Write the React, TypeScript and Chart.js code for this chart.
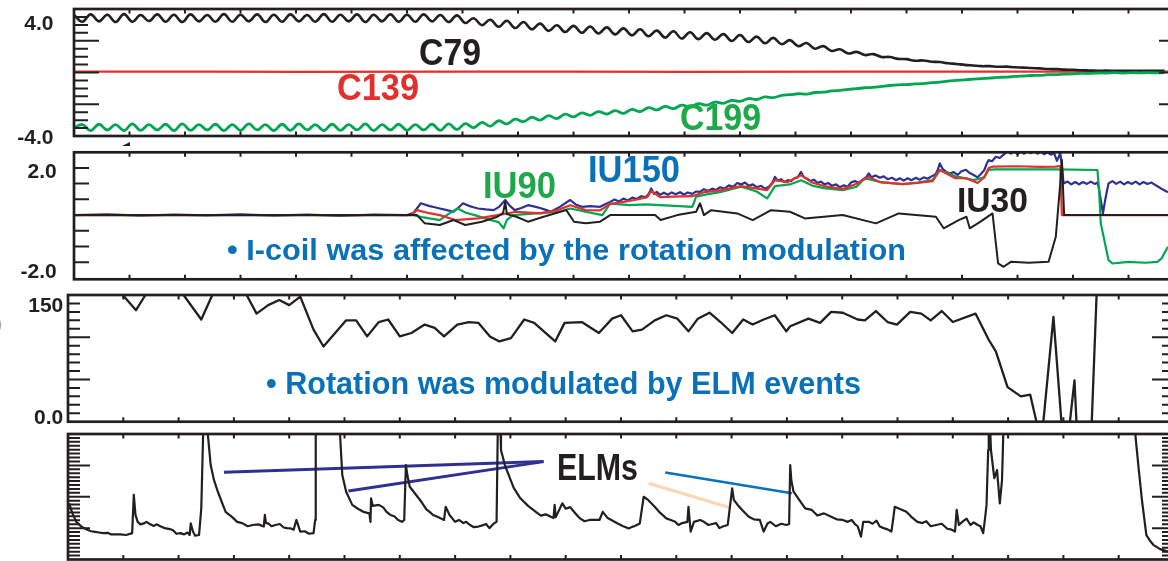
import React, { useEffect, useLayoutEffect, useRef } from "react";
import { Chart, registerables } from "chart.js";

Chart.register(...registerables);

type Pt = [number, number];

// ---------- palette ----------
const INK = "#231f20";
const RED = "#e2312c";
const GREEN = "#00a651";
const GREEN_TEXT = "#1fa84a";
const BLUE_TEXT = "#0a71b9";
const NAVY = "#2e3192";
const SKY = "#0a72bc";
const PEACH = "#fcd6b3";
const FONT = '"Liberation Sans", Arial, Helvetica, sans-serif';

// ---------- coil currents (kA), sampled every 15 ms ----------
const COIL_STEP_MS = 15;

const C79: number[] = [
  3.62, 3.2, 3.66, 3.22, 3.64, 3.18, 3.68, 3.2, 3.62, 3.24,
  3.66, 3.2, 3.64, 3.18, 3.66, 3.22, 3.62, 3.2, 3.68, 3.2,
  3.64, 3.22, 3.66, 3.18, 3.64, 3.2, 3.66, 3.22, 3.62, 3.2,
  3.68, 3.2, 3.64, 3.22, 3.66, 3.18, 3.64, 3.22, 3.66, 3.2,
  3.64, 3.2, 3.66, 3.22, 3.62, 3.18, 3.6, 3.12, 3.42, 2.98,
  3.32, 2.88, 3.26, 2.8, 3.18, 2.72, 3.08, 2.62, 2.98, 2.55,
  2.94, 2.5, 2.9, 2.46, 2.84, 2.4, 2.78, 2.34, 2.72, 2.28,
  2.64, 2.2, 2.6, 2.14, 2.54, 2.1, 2.48, 2.06, 2.42, 1.98,
  2.36, 1.92, 2.26, 1.84, 2.18, 1.78, 2.04, 1.66, 1.86, 1.5,
  1.66, 1.36, 1.46, 1.2, 1.3, 1.1, 1.16, 0.98, 0.98, 0.86,
  0.84, 0.74, 0.76, 0.68, 0.66, 0.58, 0.54, 0.48, 0.44, 0.4,
  0.4, 0.36, 0.37, 0.33, 0.31, 0.28, 0.26, 0.22, 0.21, 0.18,
  0.17, 0.14, 0.13, 0.11, 0.12, 0.1, 0.11, 0.1, 0.11, 0.1,
  0.11, 0.1,
];

const C199: number[] = [
  -3.48, -3.28, -3.66, -3.26, -3.62, -3.28, -3.66, -3.24, -3.64, -3.28,
  -3.62, -3.26, -3.66, -3.24, -3.64, -3.28, -3.62, -3.26, -3.66, -3.28,
  -3.64, -3.24, -3.62, -3.28, -3.66, -3.26, -3.64, -3.24, -3.62, -3.28,
  -3.66, -3.26, -3.64, -3.28, -3.62, -3.24, -3.66, -3.28, -3.62, -3.26,
  -3.64, -3.28, -3.62, -3.26, -3.64, -3.24, -3.6, -3.22, -3.48, -3.14,
  -3.38, -3.04, -3.24, -2.94, -3.1, -2.82, -3.0, -2.72, -2.9, -2.62,
  -2.8, -2.54, -2.7, -2.46, -2.62, -2.4, -2.58, -2.32, -2.46, -2.22,
  -2.36, -2.14, -2.28, -2.06, -2.16, -1.96, -2.06, -1.86, -1.94, -1.76,
  -1.82, -1.64, -1.7, -1.54, -1.58, -1.44, -1.4, -1.34, -1.36, -1.26,
  -1.24, -1.16, -1.12, -1.06, -1.02, -0.96, -0.94, -0.88, -0.82, -0.78,
  -0.76, -0.72, -0.7, -0.64, -0.6, -0.54, -0.5, -0.46, -0.42, -0.38,
  -0.35, -0.31, -0.29, -0.25, -0.22, -0.19, -0.18, -0.14, -0.13, -0.1,
  -0.09, -0.06, -0.06, -0.03, -0.03, -0.01, -0.03, -0.01, -0.02, -0.01,
  -0.02, -0.01,
];

const C139: Pt[] = [
  [0, 0.05], [250, 0.06], [400, 0.04], [700, 0.05], [900, 0.06],
  [1100, 0.04], [1400, 0.05], [1700, 0.05], [1971, 0.05],
];

// ---------- I-coil currents (kA) vs time (ms) ----------
const IU30: Pt[] = [
  [0, 0], [618, 0], [632, -0.35], [659, -0.42], [684, -0.21], [705, -0.42], [735, -0.28],
  [763, -0.07], [773, 0.08], [777, 0.56], [780, 0.04], [797, -0.07], [818, -0.28], [846, -0.07],
  [887, 0.21], [901, -0.28], [922, -0.35], [948, -0.28], [966, 0], [1047, 0], [1057, -0.21],
  [1087, 0], [1121, 0.14], [1128, 0.5], [1135, 0], [1148, 0.21], [1195, 0.07], [1223, -0.21],
  [1256, 0.21], [1290, 0.14], [1317, -0.14], [1385, 0], [1445, -0.35], [1486, 0.07],
  [1553, -0.07], [1567, -0.56], [1594, -0.21], [1608, -0.07], [1614, -0.56], [1632, -0.3],
  [1655, 0.07], [1665, -2.05], [1675, -2.19], [1688, -1.98], [1720, -2.02], [1756, -1.98],
  [1769, -0.92], [1777, 1.34], [1780, 2.33], [1784, 0], [1971, 0],
];

const IU_RED: Pt[] = [
  [0, 0], [607, 0], [618, 0.21], [640, 0.08], [659, 0], [687, -0.21], [728, -0.14], [763, 0],
  [797, 0.14], [840, 0.07], [870, 0.2], [894, 0.42], [922, 0.21], [948, 0.2], [966, 0.47],
  [990, 0.56], [1010, 0.64], [1033, 0.76], [1040, 1.02], [1056, 0.76], [1080, 0.78], [1114, 0.8],
  [1135, 0.97], [1164, 1.05], [1202, 1.23], [1225, 1.14], [1249, 1.06], [1263, 1.48], [1286, 1.4],
  [1310, 1.69], [1330, 1.38], [1351, 1.23], [1385, 1.1], [1407, 1.3], [1432, 1.61], [1452, 1.4],
  [1493, 1.31], [1520, 1.36], [1547, 1.44], [1560, 1.91], [1587, 1.57], [1607, 1.57], [1628, 1.36],
  [1640, 1.6], [1648, 1.99], [1655, 2.05], [1700, 2.07], [1740, 2.04], [1769, 2.05], [1777, 2.08],
  [1780, 0], [1971, 0],
];

const IU90: Pt[] = [
  [0, 0], [611, 0], [630, -0.1], [659, -0.21], [675, 0.05], [691, 0.28], [706, 0.1], [722, 0],
  [750, -0.21], [765, -0.3], [774, -0.56], [780, -0.2], [791, 0], [832, 0.07], [873, 0.14],
  [894, 0.28], [922, 0.14], [952, 0], [966, 0.5], [985, 0.45], [1002, 0.42], [1030, 0.45],
  [1056, 0.42], [1090, 0.38], [1114, 0.35], [1121, 0.78], [1140, 0.88], [1164, 0.97], [1202, 1.2],
  [1230, 1.0], [1249, 0.71], [1263, 1.23], [1290, 1.3], [1310, 1.48], [1330, 1.25], [1351, 1.14],
  [1385, 1.06], [1410, 1.2], [1425, 1.56], [1452, 1.4], [1493, 1.31], [1520, 1.38], [1547, 1.48],
  [1560, 1.91], [1587, 1.65], [1621, 1.48], [1640, 1.6], [1648, 1.91], [1659, 1.94], [1769, 1.94],
  [1844, 1.91], [1847, 1.06], [1850, -0.34], [1864, -1.91], [1871, -2.05], [1900, -1.98],
  [1930, -2.02], [1952, -1.98], [1960, -1.82], [1971, -1.34],
];

const IU150: Pt[] = [
  [0, 0], [60, 0.03], [120, -0.02], [180, 0.02], [240, -0.01], [300, 0.03], [360, -0.02],
  [420, 0.02], [480, -0.03], [540, 0.02], [600, 0], [612, 0.1], [625, 0.5], [633, 0.44],
  [641, 0.38], [650, 0.33], [659, 0.28], [670, 0.22], [684, 0.14], [692, 0.3], [701, 0.5],
  [707, 0.44], [713, 0.38], [720, 0.33], [728, 0.28], [742, 0.24], [756, 0.21], [766, 0.35],
  [777, 0.64], [785, 0.4], [794, 0.21], [806, 0.3], [818, 0.42], [830, 0.36], [840, 0.3],
  [850, 0.22], [859, 0.14], [876, 0.36], [894, 0.64], [904, 0.45], [915, 0.35], [930, 0.38],
  [948, 0.35], [957, 0.46], [966, 0.56], [974, 0.66], [982, 0.58], [990, 0.7], [998, 0.62],
  [1006, 0.74], [1014, 0.68], [1022, 0.8], [1030, 0.76], [1036, 0.92], [1040, 1.13], [1045, 0.9],
  [1050, 0.98], [1056, 0.86], [1063, 0.95], [1070, 0.86], [1077, 0.96], [1084, 0.88], [1092, 0.97],
  [1099, 0.87], [1106, 0.96], [1114, 0.9], [1121, 1.0], [1128, 0.98], [1135, 1.1], [1142, 1.02],
  [1150, 1.12], [1157, 1.06], [1164, 1.18], [1172, 1.12], [1180, 1.26], [1188, 1.2], [1195, 1.36],
  [1202, 1.3], [1209, 1.38], [1216, 1.24], [1223, 1.3], [1230, 1.18], [1238, 1.24], [1245, 1.12],
  [1252, 1.2], [1258, 1.36], [1263, 1.62], [1268, 1.46], [1274, 1.52], [1280, 1.4], [1286, 1.48],
  [1292, 1.44], [1298, 1.56], [1304, 1.6], [1310, 1.83], [1315, 1.6], [1321, 1.54], [1327, 1.44],
  [1333, 1.5], [1340, 1.36], [1346, 1.42], [1352, 1.3], [1359, 1.36], [1366, 1.24], [1373, 1.3],
  [1380, 1.18], [1387, 1.26], [1394, 1.2], [1400, 1.38], [1407, 1.44], [1414, 1.36], [1421, 1.5],
  [1428, 1.62], [1432, 1.77], [1437, 1.6], [1444, 1.68], [1452, 1.58], [1459, 1.64], [1466, 1.52],
  [1474, 1.58], [1481, 1.48], [1488, 1.56], [1495, 1.46], [1502, 1.56], [1509, 1.48], [1517, 1.58],
  [1524, 1.5], [1531, 1.6], [1538, 1.54], [1545, 1.64], [1552, 1.72], [1556, 1.9], [1560, 2.19],
  [1565, 1.96], [1571, 1.84], [1578, 1.76], [1585, 1.82], [1592, 1.7], [1599, 1.86], [1607, 1.92],
  [1614, 1.78], [1621, 1.7], [1628, 1.6], [1634, 1.74], [1640, 1.9], [1645, 2.2], [1648, 2.33],
  [1654, 2.28], [1661, 2.47], [1668, 2.42], [1675, 2.56], [1682, 2.7], [1688, 2.6], [1694, 2.7],
  [1700, 2.58], [1706, 2.68], [1712, 2.6], [1718, 2.72], [1724, 2.62], [1730, 2.7], [1736, 2.6],
  [1742, 2.68], [1748, 2.58], [1754, 2.66], [1760, 2.56], [1766, 2.62], [1771, 2.3], [1774, 2.45],
  [1777, 2.62], [1780, 2.1], [1783, 1.34], [1790, 1.42], [1797, 1.3], [1804, 1.4], [1811, 1.3],
  [1818, 1.4], [1825, 1.32], [1832, 1.42], [1839, 1.32], [1844, 1.38], [1847, 1.1], [1850, 0.64],
  [1854, 0.08], [1858, 0.64], [1861, 1.0], [1864, 1.34], [1871, 1.44], [1878, 1.32], [1885, 1.42],
  [1892, 1.3], [1899, 1.4], [1906, 1.32], [1913, 1.42], [1920, 1.3], [1927, 1.4], [1934, 1.32],
  [1941, 1.38], [1948, 1.28], [1955, 1.18], [1962, 1.08], [1971, 0.97],
];

// ---------- toroidal rotation (km/s) vs time (ms) ----------
const ROTATION: Pt[] = [
  [0, 165], [99, 150], [123, 132], [140, 150], [148, 165], [203, 165], [209, 150], [241, 121],
  [261, 150], [275, 165], [311, 165], [323, 150], [341, 128], [362, 138], [382, 144], [400, 138],
  [420, 148], [444, 109], [462, 89], [503, 120], [521, 120], [541, 101], [562, 118], [579, 121],
  [600, 101], [621, 105], [645, 115], [663, 111], [680, 101], [704, 115], [725, 118], [742, 117],
  [763, 101], [780, 95], [801, 99], [825, 121], [843, 117], [881, 95], [898, 117], [929, 118],
  [960, 105], [984, 122], [1000, 126], [1021, 107], [1038, 109], [1061, 120], [1082, 126],
  [1102, 122], [1122, 107], [1139, 122], [1160, 129], [1180, 118], [1201, 105], [1221, 121],
  [1238, 115], [1258, 121], [1278, 126], [1299, 107], [1306, 113], [1339, 122], [1360, 117],
  [1380, 130], [1401, 129], [1428, 121], [1441, 120], [1461, 131], [1482, 118], [1499, 115],
  [1523, 130], [1543, 128], [1560, 120], [1580, 131], [1600, 118], [1641, 128], [1665, 97],
  [1678, 83], [1699, 41], [1723, 30], [1740, 32], [1753, -5], [1763, -5], [1782, 124], [1797, -5],
  [1811, -5], [1820, 49], [1824, -5], [1851, -5], [1860, 150], [1863, 168], [1989, 168],
];

// ---------- D-alpha (a.u.) vs time (ms) ----------
const DALPHA: Pt[] = [
  [2, 1.79], [8, 1.47], [15, 1.2], [25, 1.04], [36, 0.94], [42, 0.9], [49, 0.88], [56, 0.86],
  [64, 0.84], [72, 0.85], [78, 0.8], [85, 0.8], [95, 0.8], [105, 0.78], [116, 0.84], [119, 2.06],
  [122, 1.42], [126, 1.2], [131, 1.12], [137, 1.15], [142, 1.2], [148, 1.13], [155, 1.07],
  [160, 1.12], [168, 1.05], [175, 1.0], [184, 0.97], [190, 0.93], [196, 0.82], [203, 0.84],
  [210, 0.8], [216, 0.86], [220, 0.78], [222, 1.15], [226, 0.89], [230, 0.76], [237, 0.78],
  [241, 1.63], [245, 4.45], [251, 4.45], [253, 3.97], [258, 3.01], [264, 2.53], [271, 2.16],
  [285, 1.52], [297, 1.35], [306, 1.2], [315, 1.16], [325, 1.06], [334, 1.1], [344, 1.12],
  [354, 1.05], [356, 1.42], [358, 1.16], [362, 1.15], [368, 1.06], [375, 1.1], [383, 1.13],
  [390, 1.02], [396, 1.0], [403, 0.99], [408, 0.95], [413, 1.26], [420, 0.89], [428, 0.9],
  [436, 0.82], [444, 0.84], [447, 1.26], [448, 4.45], [490, 4.45], [492, 3.97], [496, 2.69],
  [503, 2.16], [514, 1.74], [525, 1.61], [534, 1.52], [545, 1.47], [547, 1.2], [548, 1.95],
  [551, 1.71], [562, 1.74], [570, 1.66], [576, 1.52], [583, 1.42], [590, 1.38], [597, 1.26],
  [604, 1.2], [608, 1.26], [611, 3.01], [614, 2.66], [618, 2.32], [639, 1.84], [648, 1.6],
  [655, 1.5], [660, 1.42], [668, 1.36], [680, 1.26], [683, 1.68], [690, 1.42], [700, 1.2],
  [707, 1.26], [715, 1.16], [720, 1.2], [727, 1.1], [734, 1.03], [742, 1.05], [748, 1.08],
  [756, 1.13], [762, 1.0], [770, 1.15], [775, 1.2], [777, 3.91], [779, 4.45], [782, 4.19],
  [783, 3.49], [790, 3.01], [797, 2.69], [806, 2.28], [818, 1.95], [832, 1.71], [846, 1.52],
  [855, 1.4], [864, 1.44], [873, 1.36], [878, 1.32], [880, 1.74], [882, 1.35], [894, 1.79],
  [900, 1.62], [908, 1.67], [915, 1.52], [920, 1.42], [926, 1.31], [934, 1.22], [943, 1.26],
  [961, 1.26], [967, 1.52], [976, 1.32], [994, 1.15], [1003, 1.07], [1014, 0.99], [1020, 1.04],
  [1025, 1.07], [1034, 1.15], [1041, 2.0], [1049, 1.9], [1061, 1.68], [1070, 1.5], [1082, 1.31],
  [1090, 1.26], [1098, 1.2], [1104, 1.1], [1109, 1.15], [1120, 1.2], [1122, 1.68], [1126, 0.89],
  [1132, 1.2], [1143, 1.26], [1150, 1.2], [1158, 1.1], [1165, 1.13], [1172, 1.16], [1178, 1.0],
  [1184, 1.05], [1193, 1.1], [1201, 2.27], [1204, 1.9], [1211, 1.74], [1220, 1.56], [1231, 1.36],
  [1240, 1.28], [1251, 1.26], [1258, 0.89], [1265, 1.15], [1270, 1.2], [1280, 1.06], [1290, 1.14],
  [1299, 1.1], [1304, 1.13], [1306, 3.01], [1308, 2.53], [1312, 2.16], [1333, 1.63], [1345, 1.58],
  [1355, 1.4], [1367, 1.47], [1380, 1.36], [1390, 1.28], [1401, 1.26], [1410, 1.2], [1417, 1.26],
  [1423, 1.13], [1428, 1.06], [1434, 0.73], [1438, 1.2], [1448, 1.2], [1455, 1.14], [1462, 1.24],
  [1468, 1.05], [1475, 1.0], [1482, 0.96], [1489, 0.89], [1492, 1.26], [1495, 1.68], [1516, 1.52],
  [1525, 1.36], [1536, 1.2], [1545, 1.16], [1552, 1.22], [1560, 1.06], [1570, 1.1], [1580, 1.14],
  [1590, 0.98], [1598, 0.95], [1604, 0.89], [1607, 1.58], [1611, 1.1], [1617, 1.2], [1625, 1.3],
  [1632, 1.1], [1638, 1.18], [1645, 1.1], [1650, 1.06], [1655, 0.84], [1658, 1.26], [1661, 1.74],
  [1664, 3.49], [1665, 4.45], [1667, 4.45], [1669, 3.49], [1675, 2.59], [1680, 2.85], [1685, 1.79],
  [1689, 2.53], [1692, 4.45], [1928, 4.45], [1931, 3.81], [1936, 2.91], [1942, 1.9], [1950, 0.78],
  [1957, 0.59], [1963, 0.46], [1975, 0.33], [1989, 0.25],
];

// pointer strokes from the "ELMs" note to individual bursts
const ELM_POINTER_A: Pt[] = [[282, 2.78], [860, 3.12]];
const ELM_POINTER_B: Pt[] = [[507, 2.18], [860, 3.12]];
const ELM_POINTER_C: Pt[] = [[1080, 2.77], [1309, 2.11]];
const ELM_POINTER_D: Pt[] = [[1050, 2.43], [1197, 1.65]];

// ---------- panel definitions ----------
const CANVAS_W = 1200;

interface Series { points: Pt[]; color: string; width: number; tension?: number }
interface Label { value: number; text: string; dy: number }
interface PanelSpec {
  left: number; right: number; top: number; bottom: number;
  xMin: number; xMax: number; xStep: number;
  yMin: number; yMax: number;
  minorFrom: number; minorTo: number; minorStep: number; minorLen: number;
  major: number[]; majorLen: number;
  labels: Label[]; labelRight: number;
  series: Series[];
}

const stepped = (values: number[], step: number): Pt[] => values.map((v, i) => [i * step, v]);

const PANELS: PanelSpec[] = [
  {
    left: 74, right: 1184, top: 9, bottom: 136,
    xMin: 0, xMax: 2000, xStep: 100, yMin: -4, yMax: 4,
    minorFrom: -4, minorTo: 4, minorStep: 0.5, minorLen: 14, major: [-2, 0, 2], majorLen: 25,
    labels: [{ value: 4, text: "4.0", dy: 13 }, { value: -4, text: "-4.0", dy: 0 }], labelRight: 53.5,
    series: [
      { points: stepped(C199, COIL_STEP_MS), color: GREEN, width: 2.8, tension: 0.4 },
      { points: stepped(C79, COIL_STEP_MS), color: INK, width: 2.6, tension: 0.4 },
      { points: C139, color: RED, width: 2.3 },
    ],
  },
  {
    left: 74, right: 1184, top: 152.3, bottom: 279.3,
    xMin: 0, xMax: 2000, xStep: 100, yMin: -2.72, yMax: 2.66,
    minorFrom: -2, minorTo: 2, minorStep: 2 / 3, minorLen: 15, major: [], majorLen: 15,
    labels: [{ value: 2, text: "2.0", dy: 3 }, { value: -2, text: "-2.0", dy: 8.5 }], labelRight: 56.7,
    series: [
      { points: IU30, color: INK, width: 2 },
      { points: IU_RED, color: RED, width: 2.2 },
      { points: IU90, color: GREEN, width: 2.2 },
      { points: IU150, color: NAVY, width: 2.2 },
    ],
  },
  {
    left: 68, right: 1174, top: 295, bottom: 421.7,
    xMin: 0, xMax: 2000, xStep: 100, yMin: 0, yMax: 150,
    minorFrom: 0, minorTo: 150, minorStep: 10, minorLen: 12, major: [50, 100], majorLen: 22,
    labels: [{ value: 150, text: "150", dy: 9 }, { value: 0, text: "0.0", dy: -5.5 }], labelRight: 63.3,
    series: [{ points: ROTATION, color: INK, width: 2.3 }],
  },
  {
    left: 68, right: 1174, top: 434, bottom: 559.5,
    xMin: 0, xMax: 2000, xStep: 100, yMin: 0, yMax: 4,
    minorFrom: 0, minorTo: 4, minorStep: 0.125, minorLen: 12, major: [1, 2, 3], majorLen: 22,
    labels: [], labelRight: 63.3,
    series: [
      { points: DALPHA, color: INK, width: 2.2 },
      { points: ELM_POINTER_A, color: NAVY, width: 3 },
      { points: ELM_POINTER_B, color: NAVY, width: 3 },
      { points: ELM_POINTER_C, color: SKY, width: 2.6 },
      { points: ELM_POINTER_D, color: PEACH, width: 3 },
    ],
  },
];

// frame, inward ticks and tick labels for one panel
function framePlugin(spec: PanelSpec) {
  return {
    id: "panelFrame",
    afterDatasetsDraw(chart: any) {
      const { ctx, chartArea: a } = chart;
      const xs = chart.scales.x;
      const ys = chart.scales.y;
      ctx.save();
      ctx.strokeStyle = INK;
      ctx.lineCap = "butt";
      ctx.lineWidth = 2;
      const n = Math.round((spec.minorTo - spec.minorFrom) / spec.minorStep);
      for (let i = 0; i <= n; i++) {
        const v = spec.minorFrom + i * spec.minorStep;
        if (v <= spec.yMin + 1e-6 || v >= spec.yMax - 1e-6) continue;
        const isMajor = spec.major.some((m) => Math.abs(m - v) < 1e-6);
        const len = isMajor ? spec.majorLen : spec.minorLen;
        const y = ys.getPixelForValue(v);
        ctx.beginPath();
        ctx.moveTo(a.left, y);
        ctx.lineTo(a.left + len, y);
        ctx.moveTo(a.right, y);
        ctx.lineTo(a.right - len, y);
        ctx.stroke();
      }
      for (let t = spec.xMin + spec.xStep; t < spec.xMax - 1e-6; t += spec.xStep) {
        const x = xs.getPixelForValue(t);
        ctx.beginPath();
        ctx.moveTo(x, a.top);
        ctx.lineTo(x, a.top + 4.5);
        ctx.moveTo(x, a.bottom);
        ctx.lineTo(x, a.bottom - 4.5);
        ctx.stroke();
      }
      ctx.lineWidth = 2.7;
      ctx.strokeRect(a.left, a.top, a.right - a.left, a.bottom - a.top);
      const fs = 21;
      ctx.fillStyle = INK;
      ctx.font = `bold ${fs}px ${FONT}`;
      ctx.textAlign = "right";
      ctx.textBaseline = "alphabetic";
      for (const l of spec.labels) {
        const y = ys.getPixelForValue(l.value) + l.dy + (fs * 0.716) / 2;
        ctx.fillText(l.text, spec.labelRight, y);
      }
      ctx.restore();
    },
  };
}

function Panel({ spec }: { spec: PanelSpec }) {
  const ref = useRef<HTMLCanvasElement>(null);
  const canvasTop = Math.floor(spec.top) - 8;
  const canvasH = Math.ceil(spec.bottom) + 10 - canvasTop;

  useEffect(() => {
    const canvas = ref.current;
    if (!canvas) return;
    const chart = new Chart(canvas, {
      type: "line",
      data: {
        datasets: spec.series.map((s) => ({
          data: s.points.map(([x, y]) => ({ x, y })),
          borderColor: s.color,
          borderWidth: s.width,
          pointRadius: 0,
          tension: s.tension ?? 0,
          fill: false,
          clip: 0,
          borderJoinStyle: "round",
        })),
      },
      options: {
        animation: false,
        responsive: false,
        events: [],
        layout: {
          padding: {
            left: spec.left,
            right: CANVAS_W - spec.right,
            top: spec.top - canvasTop,
            bottom: canvasTop + canvasH - spec.bottom,
          },
        },
        scales: {
          x: { type: "linear", min: spec.xMin, max: spec.xMax, display: false },
          y: { type: "linear", min: spec.yMin, max: spec.yMax, display: false },
        },
        plugins: { legend: { display: false }, tooltip: { enabled: false } },
      },
      plugins: [framePlugin(spec)],
    } as any);
    return () => chart.destroy();
  }, [spec]);

  return (
    <canvas
      ref={ref}
      width={CANVAS_W}
      height={canvasH}
      style={{ position: "absolute", left: 0, top: canvasTop, width: CANVAS_W, height: canvasH }}
    />
  );
}

// ---------- text notes ----------
interface NoteSpec { text: string; left: number; capTop: number; size: number; width?: number; color: string }

const NOTES: NoteSpec[] = [
  { text: "C79", left: 419, capTop: 40, size: 36, width: 62, color: INK },
  { text: "C139", left: 337, capTop: 73.5, size: 37, width: 82, color: RED },
  { text: "C199", left: 680, capTop: 103.5, size: 37, width: 81, color: GREEN_TEXT },
  { text: "IU90", left: 483, capTop: 172, size: 37, width: 73, color: GREEN_TEXT },
  { text: "IU150", left: 588, capTop: 155.5, size: 37, width: 92, color: BLUE_TEXT },
  { text: "IU30", left: 957, capTop: 187, size: 35, width: 71, color: INK },
  { text: "\u2022 I-coil was affected by the rotation modulation", left: 227, capTop: 239, size: 30, width: 679, color: BLUE_TEXT },
  { text: "\u2022 Rotation was modulated by ELM events", left: 266, capTop: 372, size: 31, width: 595, color: BLUE_TEXT },
  { text: "ELMs", left: 557, capTop: 455, size: 36, width: 81, color: INK },
  { text: ")", left: -8, capTop: 312, size: 30, color: INK },
];

function Note({ n }: { n: NoteSpec }) {
  const ref = useRef<HTMLDivElement>(null);
  useLayoutEffect(() => {
    const el = ref.current;
    if (!el || !n.width) return;
    el.style.transform = "none";
    const w = el.getBoundingClientRect().width;
    if (w > 0) el.style.transform = `scaleX(${n.width / w})`;
  }, [n]);
  return (
    <div
      ref={ref}
      style={{
        position: "absolute",
        left: n.left,
        top: n.capTop - 0.13 * n.size,
        fontSize: n.size,
        lineHeight: `${n.size}px`,
        fontWeight: 700,
        fontFamily: FONT,
        color: n.color,
        whiteSpace: "nowrap",
        transformOrigin: "0 0",
      }}
    >
      {n.text}
    </div>
  );
}

export default function App() {
  return (
    <div
      style={{
        position: "fixed",
        left: 0,
        top: 0,
        width: 1168,
        height: 561,
        overflow: "hidden",
        background: "#ffffff",
      }}
    >
      {PANELS.map((p, i) => (
        <Panel key={i} spec={p} />
      ))}
      {NOTES.map((n, i) => (
        <Note key={i} n={n} />
      ))}
      <div
        style={{
          position: "absolute",
          left: 122,
          top: 142,
          width: 0,
          height: 0,
          borderLeft: "8px solid transparent",
          borderBottom: "4px solid " + INK,
        }}
      />
    </div>
  );
}
